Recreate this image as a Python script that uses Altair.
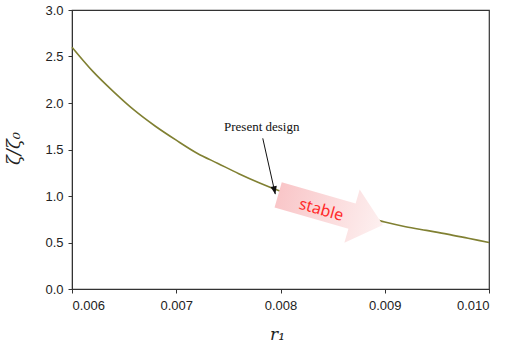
import altair as alt
import pandas as pd

# curve data
r1 = [0.0060, 0.0062, 0.0064, 0.0066, 0.0068, 0.0070, 0.0072, 0.0074, 0.0076, 0.0078,
      0.0080, 0.0082, 0.0084, 0.0086, 0.0088, 0.0090, 0.0092, 0.0094, 0.0096, 0.0098, 0.0100]
zeta = [2.60, 2.34, 2.12, 1.92, 1.75, 1.60, 1.46, 1.35, 1.24, 1.14,
        1.05, 0.97, 0.90, 0.84, 0.78, 0.72, 0.67, 0.63, 0.59, 0.545, 0.50]

x_ticks = [0.006, 0.007, 0.008, 0.009, 0.010]
y_ticks = [0.0, 0.5, 1.0, 1.5, 2.0, 2.5, 3.0]

# annotations
label_text = ["Present design"]
label_x = [0.00782]
label_y = [1.74]
pointer_x = [0.00783]
pointer_y = [1.62]
pointer_x2 = [0.00795]
pointer_y2 = [1.02]
stable_text = ["stable"]
stable_x = [0.00839]
stable_y = [0.85]
big_arrow_x = [0.00848]
big_arrow_y = [0.85]

curve = pd.DataFrame({"r1": r1, "zeta": zeta})

xs = alt.Scale(domain=[0.006, 0.010], nice=False, zero=False)
ys = alt.Scale(domain=[0.0, 3.0], nice=False)

axis_common = dict(
    labelFont="Liberation Sans", labelFontSize=13, labelColor="#222",
    tickColor="#333", tickSize=4, domainColor="#333", grid=False,
    titleFont="DejaVu Serif", titleFontStyle="italic", titleFontWeight="normal",
    titleColor="#222",
)

line = alt.Chart(curve).mark_line(color="#808032", strokeWidth=1.6, interpolate="monotone").encode(
    x=alt.X("r1:Q", scale=xs,
            axis=alt.Axis(values=x_ticks, format=".3f", title="r₁", labelPadding=6,
                          titleFontSize=17, titleX=205, titleY=50, titleBaseline="alphabetic",
                          **axis_common)),
    y=alt.Y("zeta:Q", scale=ys,
            axis=alt.Axis(values=y_ticks, format=".1f", title="ζ/ζ₀", labelPadding=5,
                          titleFontSize=18, titleX=-58, titleY=138, titleAngle=270,
                          titleBaseline="middle", **axis_common)),
)

arrow_path = "M-1,-0.24 L0.41,-0.24 L0.41,-0.51 L1,0 L0.41,0.51 L0.41,0.24 L-1,0.24 Z"
big_arrow = alt.Chart(pd.DataFrame({"x": big_arrow_x, "y": big_arrow_y})).mark_point(
    shape=arrow_path, size=11881, angle=16, filled=True, opacity=1,
    fill=alt.LinearGradient(gradient="linear",
                            stops=[alt.GradientStop(color="#f9c6c8", offset=0),
                                   alt.GradientStop(color="#fdf0f0", offset=1)],
                            x1=0, x2=1, y1=0, y2=0),
    strokeWidth=0,
).encode(x=alt.X("x:Q", scale=xs), y=alt.Y("y:Q", scale=ys))

stable = alt.Chart(pd.DataFrame({"x": stable_x, "y": stable_y, "t": stable_text})).mark_text(
    font="Noto Sans", fontSize=16, color="#ff2a2a", angle=16, align="center", baseline="middle"
).encode(x=alt.X("x:Q", scale=xs), y=alt.Y("y:Q", scale=ys), text="t:N")

label = alt.Chart(pd.DataFrame({"x": label_x, "y": label_y, "t": label_text})).mark_text(
    font="Liberation Serif", fontSize=13, color="#111", align="center", baseline="middle"
).encode(x=alt.X("x:Q", scale=xs), y=alt.Y("y:Q", scale=ys), text="t:N")

pointer = alt.Chart(pd.DataFrame({"x": pointer_x, "y": pointer_y, "x2": pointer_x2, "y2": pointer_y2})).mark_rule(
    color="#111", strokeWidth=1
).encode(x=alt.X("x:Q", scale=xs), y=alt.Y("y:Q", scale=ys), x2="x2:Q", y2="y2:Q")

head = alt.Chart(pd.DataFrame({"x": pointer_x2, "y": pointer_y2})).mark_point(
    shape="M0,0 L-0.4,-1 L0.4,-1 Z", size=256, angle=348, filled=True, color="#111", opacity=1
).encode(x=alt.X("x:Q", scale=xs), y=alt.Y("y:Q", scale=ys))

chart = alt.layer(line, big_arrow, stable, pointer, head, label).properties(
    width=417, height=279,
    padding={"left": 72, "top": 10, "right": 19, "bottom": 64},
    autosize="none",
    background="white",
).configure_view(stroke="#333", strokeWidth=1.2)

chart.save("out.html", embed_options={"renderer": "svg", "actions": False})
